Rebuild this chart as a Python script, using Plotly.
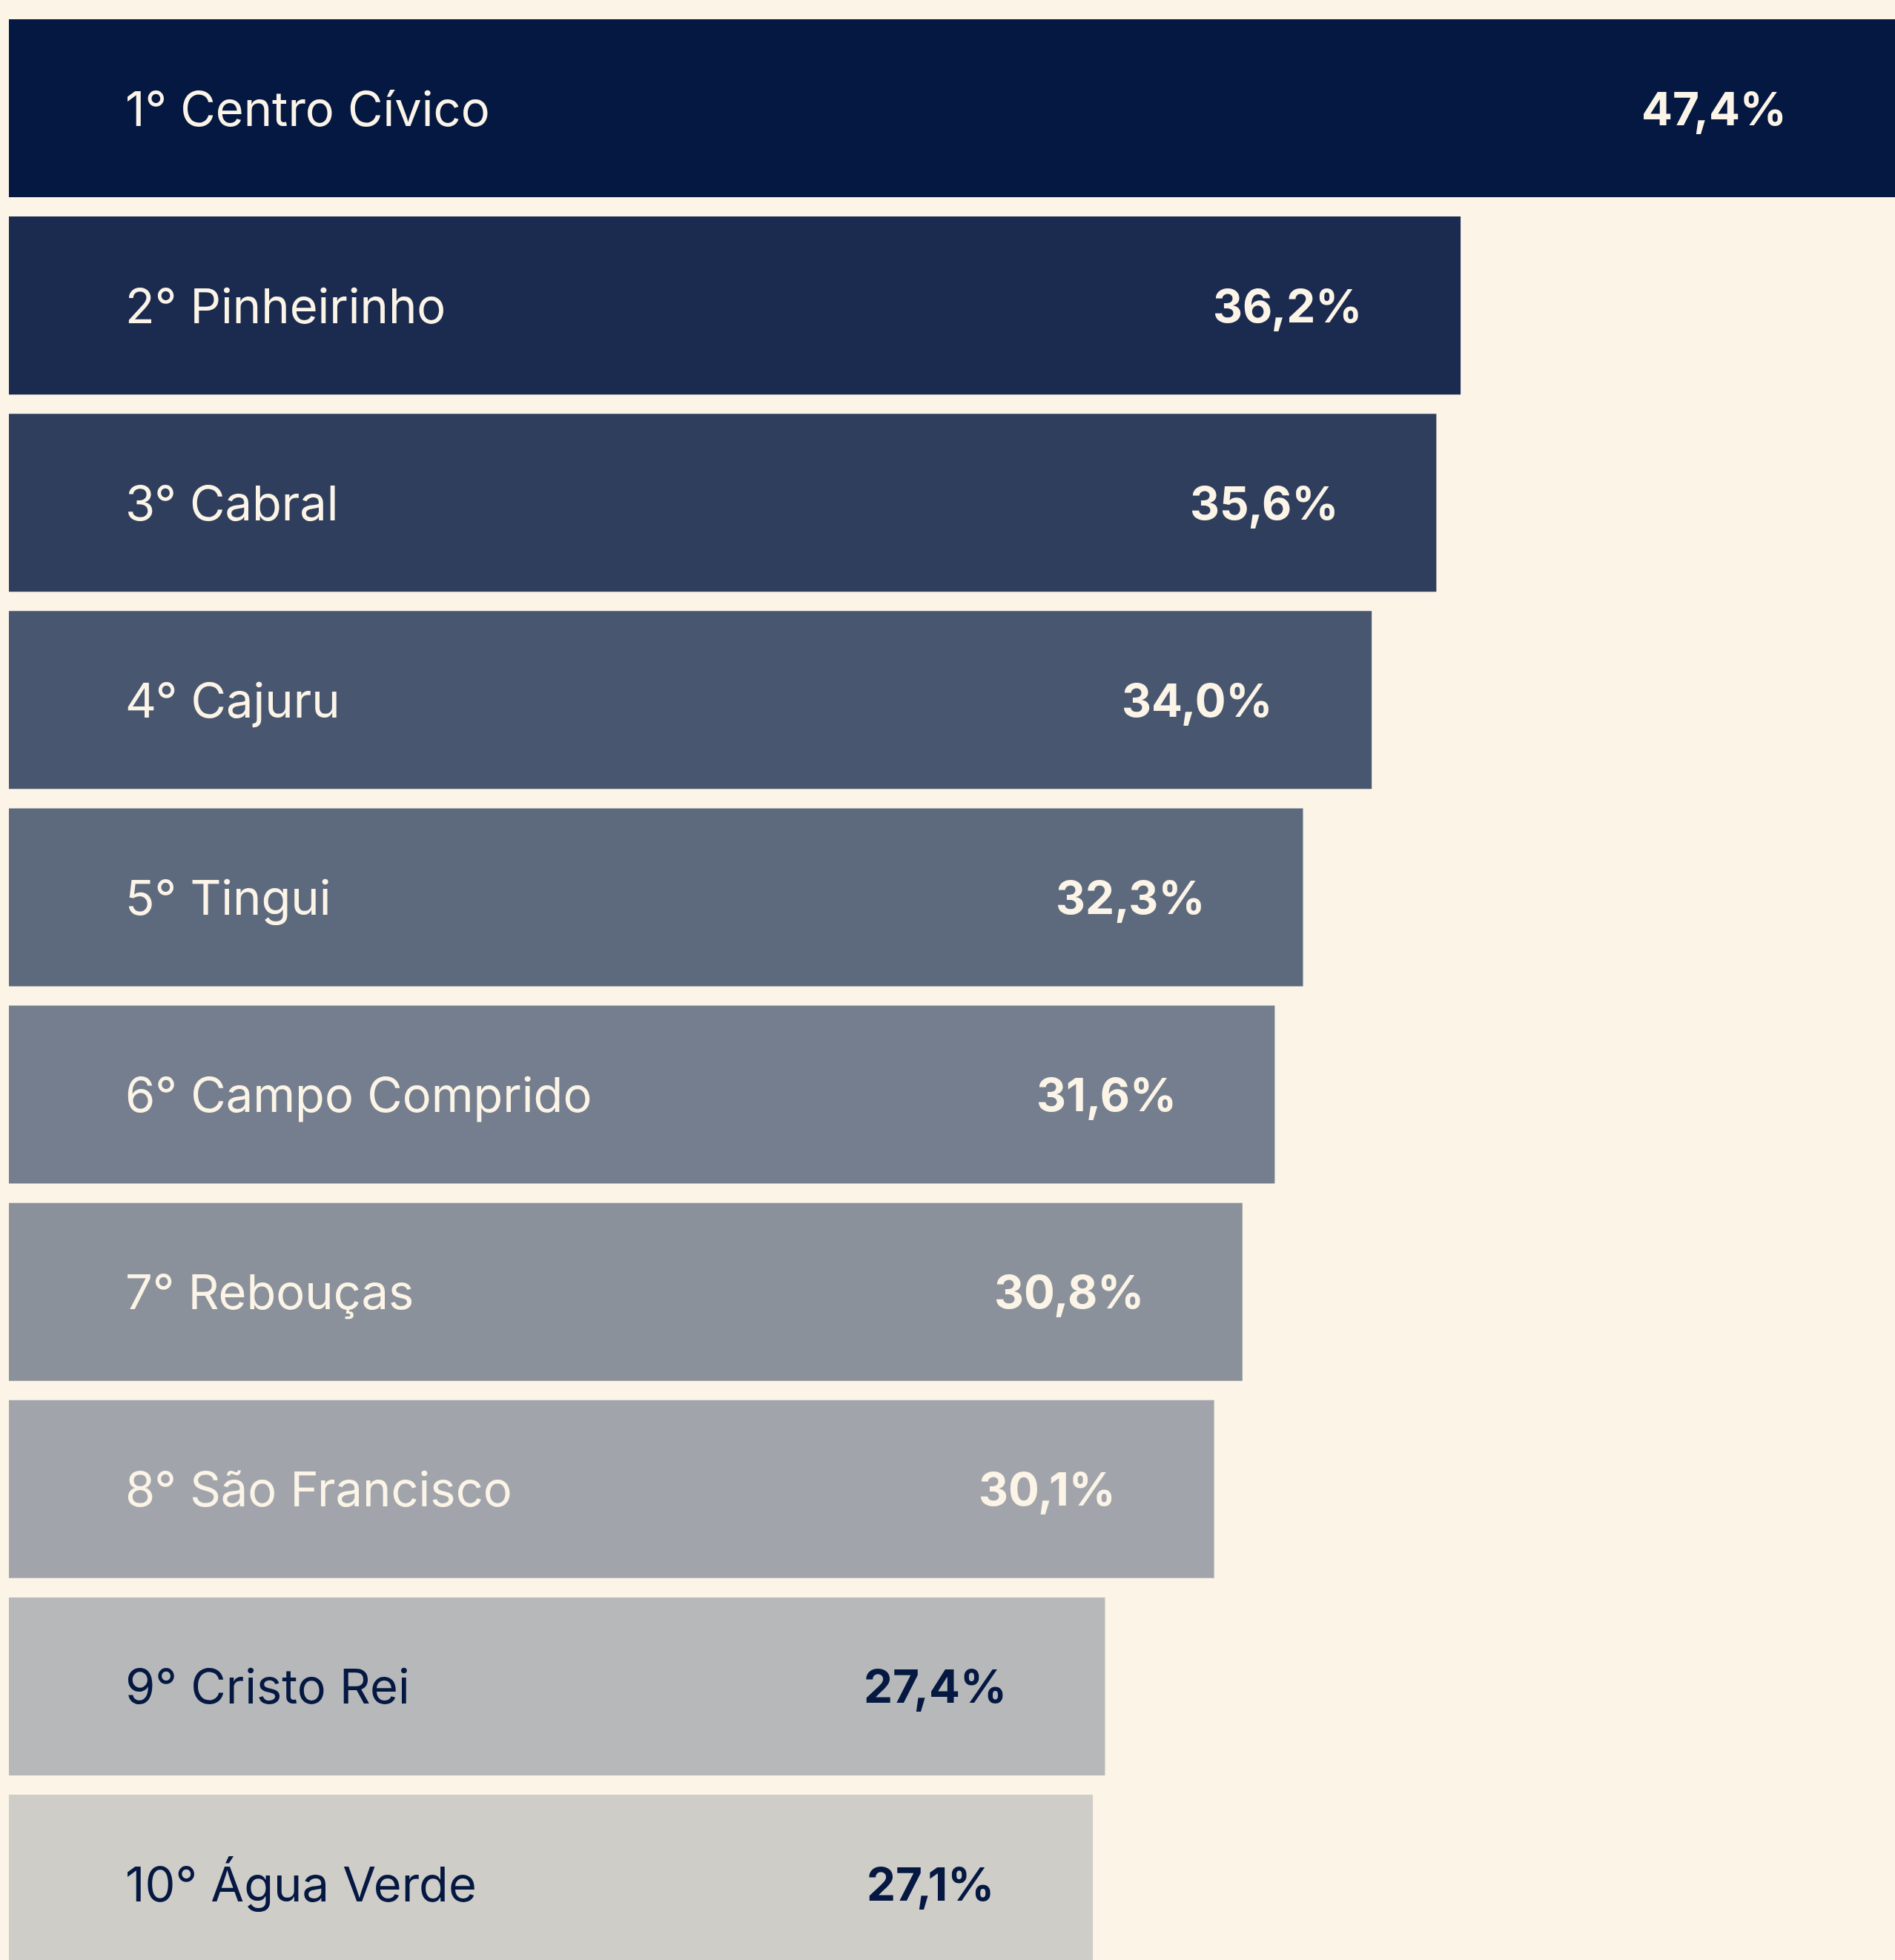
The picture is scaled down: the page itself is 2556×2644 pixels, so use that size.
import plotly.graph_objects as go

bairros = ["Centro Cívico", "Pinheirinho", "Cabral", "Cajuru", "Tingui",
           "Campo Comprido", "Rebouças", "São Francisco", "Cristo Rei", "Água Verde"]
valores = [47.4, 36.2, 35.6, 34.0, 32.3, 31.6, 30.8, 30.1, 27.4, 27.1]
cores = ["#041842", "#1b2b50", "#2e3e5c", "#48566f", "#5d6a7e",
         "#747e8e", "#8a919b", "#a1a5ab", "#b7b8b9", "#cfcdc8"]
cores_texto = ["#fbf4e7"] * 8 + ["#041842"] * 2

BG = "#fbf4e7"
W, H = 2556, 2644
FONT = "Inter"

xmin, xmax = 0.275, 46.95
pos = list(range(len(bairros)))

fig = go.Figure()
fig.add_trace(go.Bar(
    x=valores, y=pos, orientation="h",
    marker=dict(color=cores, line=dict(width=0)),
    width=0.902, hoverinfo="skip",
))

for i, (b, v) in enumerate(zip(bairros, valores)):
    fig.add_annotation(
        x=3.11, y=i, xref="x", yref="y", text=f"{i+1}° {b}",
        showarrow=False, xanchor="left", yanchor="middle",
        font=dict(family=FONT, size=65, color=cores_texto[i]),
    )
    fig.add_annotation(
        x=min(v - 2.4, xmax - 2.65), y=i, xref="x", yref="y",
        text=f"<b>{v:.1f}%</b>".replace(".", ","),
        showarrow=False, xanchor="right", yanchor="middle",
        font=dict(family=FONT, size=62, color=cores_texto[i]),
    )

fig.update_layout(
    width=W, height=H,
    margin=dict(l=12, r=0, t=0, b=0),
    paper_bgcolor=BG, plot_bgcolor=BG,
    showlegend=False,
    xaxis=dict(range=[xmin, xmax], visible=False, fixedrange=True),
    yaxis=dict(range=[9.387, -0.5487], visible=False, fixedrange=True),
)

fig.write_html(
    "out.html",
    config={"displayModeBar": False, "staticPlot": True},
    post_script="document.body.style.margin='0';document.body.style.background='" + BG + "';",
)
